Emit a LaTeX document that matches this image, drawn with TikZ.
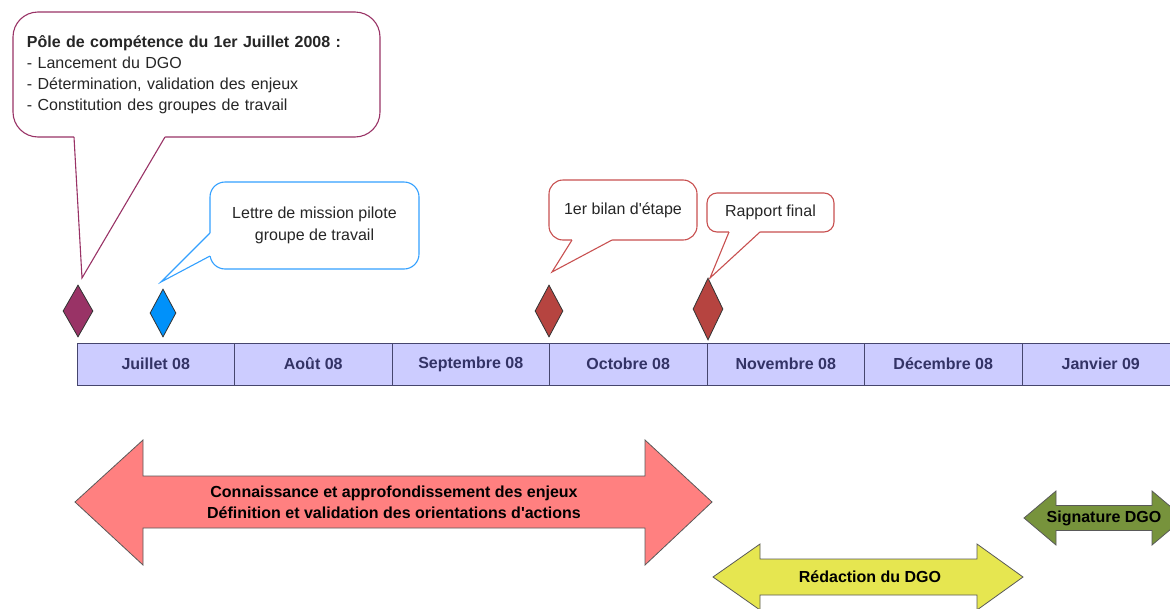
\documentclass[tikz,border=0pt]{standalone}
\usepackage{fontspec}
\setmainfont{Liberation Sans}[Ligatures=TeXOff]
\usetikzlibrary{shapes.geometric}

\definecolor{poleviolet}{RGB}{153,51,102}
\definecolor{lettrebleu}{RGB}{51,160,255}
\definecolor{jalonbleu}{RGB}{0,145,250}
\definecolor{bilanrouge}{RGB}{200,80,80}
\definecolor{jalonrouge}{RGB}{182,68,64}
\definecolor{moisfond}{RGB}{204,204,255}
\definecolor{moistrait}{RGB}{70,70,110}
\definecolor{moistexte}{RGB}{51,51,102}
\definecolor{flecherose}{RGB}{255,128,128}
\definecolor{flechejaune}{RGB}{230,230,80}
\definecolor{flecheverte}{RGB}{119,147,60}

\tikzset{
  mois/.style={draw=moistrait, fill=moisfond, line width=0.8, minimum width=157.5, minimum height=42, inner sep=0, font=\fontsize{16}{19}\selectfont\bfseries, text=moistexte},
  jalon/.style={diamond, draw=black!80, line width=0.8, inner sep=0},
  bulle/.style={fill=white, line width=1.1, align=center, font=\fontsize{16}{22}\selectfont, text=black!85},
  fleche/.style={draw=black!65, line width=0.8},
  flechetexte/.style={font=\fontsize{16}{21}\selectfont\bfseries, align=center},
}

\begin{document}
\begin{tikzpicture}[x=1pt,y=1pt,yscale=-1]
\useasboundingbox (0,0) rectangle (1170,608);

% frise des mois
\foreach \nom [count=\i from 0] in {Juillet 08, Août 08, Septembre 08, Octobre 08, Novembre 08, Décembre 08, Janvier 09}
  \node[mois] (m\i) at (155.75+157.5*\i,364) {\nom};

% jalons
\node[jalon, fill=poleviolet, minimum width=30, minimum height=52] (j1) at (78,311) {};
\node[jalon, fill=jalonbleu, minimum width=26, minimum height=48] (j2) at (163,313) {};
\node[jalon, fill=jalonrouge, minimum width=28, minimum height=52] (j3) at (549,311) {};
\node[jalon, fill=jalonrouge, minimum width=30, minimum height=62] (j4) at (708,309) {};

% bulles
\node[bulle, draw=poleviolet, rounded corners=25, minimum width=367, minimum height=125, text width=339, align=left, font=\fontsize{16}{21}\selectfont] (pole) at (196.5,74.5)
  {\textbf{Pôle de compétence du 1er Juillet 2008 :}\\- Lancement du DGO\\- Détermination, validation des enjeux\\- Constitution des groupes de travail};
\coordinate (p1) at (82,278);
\fill[white] (74,134) -- (74,137) -- (p1) -- (165,137) -- (165,134) -- cycle;
\draw[poleviolet, line width=1.1] (74,137) -- (p1) -- (165,137);

\node[bulle, draw=lettrebleu, rounded corners=15, minimum width=209, minimum height=87] (lettre) at (314.5,225.5) {Lettre de mission pilote\\groupe de travail};
\coordinate (p2) at (161,282);
\fill[white] (213,233) -- (210,233) -- (p2) -- (210,256) -- (213,256) -- cycle;
\draw[lettrebleu, line width=1.1] (210,233) -- (p2) -- (210,256);

\node[bulle, draw=bilanrouge, rounded corners=14, minimum width=148, minimum height=60] (bilan) at (623,210) {1er bilan d'étape};
\coordinate (p3) at (552,272);
\fill[white] (572,237) -- (572,240) -- (p3) -- (612,240) -- (612,237) -- cycle;
\draw[bilanrouge, line width=1.1] (572,240) -- (p3) -- (612,240);

\node[bulle, draw=bilanrouge, rounded corners=10, minimum width=127, minimum height=39] (rapport) at (770.5,212.5) {Rapport final};
\coordinate (p4) at (710,278);
\fill[white] (729,229) -- (729,232) -- (p4) -- (760,232) -- (760,229) -- cycle;
\draw[bilanrouge, line width=1.1] (729,232) -- (p4) -- (760,232);

% fleches des phases
\draw[fleche, fill=flecherose] (75,502) -- (143,440) -- (143,476) -- (645,476) -- (645,440) -- (712,502) -- (645,565) -- (645,528) -- (143,528) -- (143,565) -- cycle;
\node[flechetexte] (connaissance) at (394,502) {Connaissance et approfondissement des enjeux\\Définition et validation des orientations d'actions};

\draw[fleche, fill=flechejaune] (713,577) -- (760,544) -- (760,559) -- (977,559) -- (977,544) -- (1023,577) -- (977,610) -- (977,595) -- (760,595) -- (760,610) -- cycle;
\node[flechetexte] (redaction) at (870,577) {Rédaction du DGO};

\draw[fleche, fill=flecheverte] (1024,518) -- (1056,491) -- (1056,505.5) -- (1152,505.5) -- (1152,491) -- (1184,518) -- (1152,545) -- (1152,530.5) -- (1056,530.5) -- (1056,545) -- cycle;
\node[flechetexte] (signature) at (1104,518) {Signature DGO};

\end{tikzpicture}
\end{document}
